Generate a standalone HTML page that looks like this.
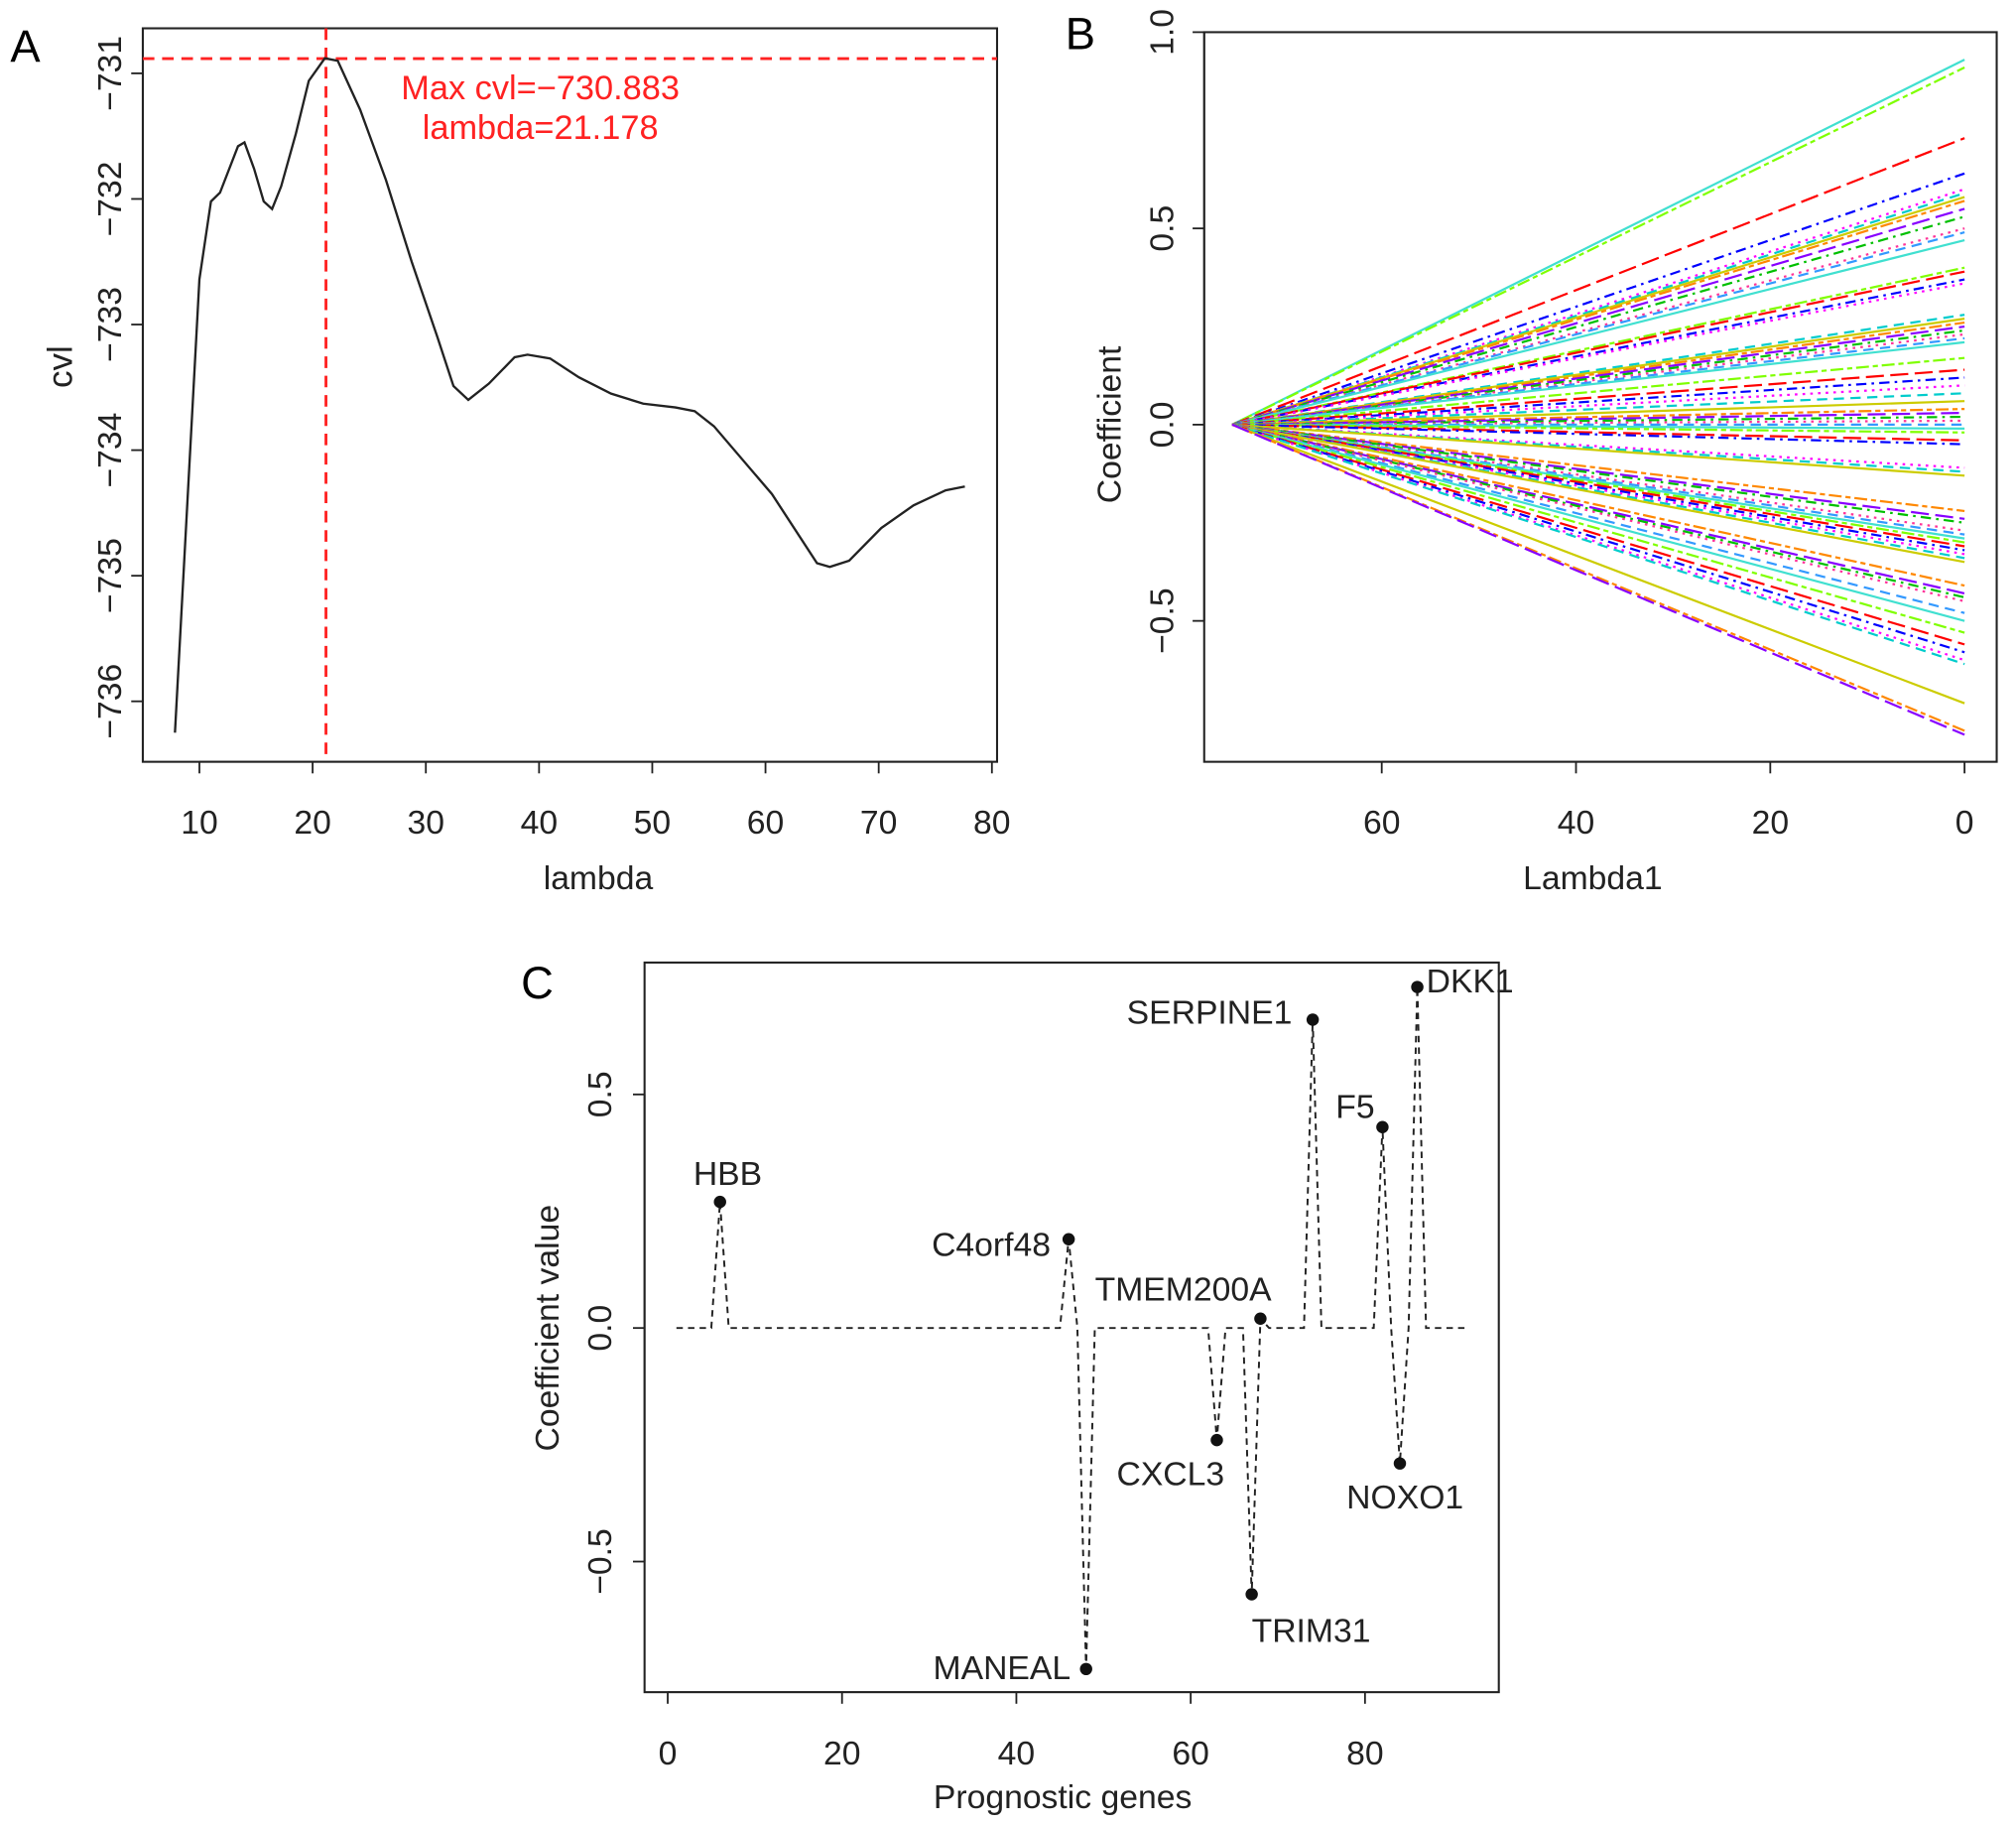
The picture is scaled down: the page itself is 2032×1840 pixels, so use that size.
<!DOCTYPE html>
<html><head><meta charset="utf-8"><style>
html,body{margin:0;padding:0;background:#fff}
svg{display:block;font-family:"Liberation Sans",Arial,sans-serif}
</style></head><body>
<svg id="fig" width="2032" height="1840" viewBox="0 0 1567 1419" preserveAspectRatio="none" xmlns="http://www.w3.org/2000/svg">
<g id="pa"></g>
<g id="pb"></g>
<g id="pc"></g>
</svg>
<script>
// ---- Panel A data ----
const cvlLambda = [7.84,10,11.02,11.82,13.41,13.98,14.83,15.68,16.42,17.22,18.52,19.66,21.08,22.22,24.2,26.48,28.75,31.02,32.44,33.75,35.57,37.84,38.98,40.97,43.52,46.36,49.2,52.05,53.75,55.45,60.57,64.55,65.68,67.39,70.23,73.07,75.91,77.61];
const cvlValues = [-736.25,-732.64,-732.02,-731.95,-731.58,-731.55,-731.76,-732.02,-732.08,-731.90,-731.48,-731.06,-730.88,-730.90,-731.29,-731.85,-732.50,-733.10,-733.49,-733.60,-733.47,-733.26,-733.24,-733.27,-733.42,-733.55,-733.63,-733.66,-733.69,-733.81,-734.35,-734.90,-734.93,-734.88,-734.62,-734.44,-734.32,-734.29];
const aXTicks = [10,20,30,40,50,60,70,80];
const aYTicks = [-731,-732,-733,-734,-735,-736];
const maxCvl = -730.883;
const maxLambda = 21.178;
// ---- Panel B data ----
const bStartLambda = 75.4;
const bEndValues = [0.93,0.91,0.73,0.64,0.60,0.59,0.58,0.57,0.55,0.53,0.50,0.49,0.47,0.40,0.39,0.37,0.36,0.28,0.27,0.26,0.25,0.24,0.23,0.22,0.21,0.17,0.14,0.12,0.10,0.08,0.06,0.04,0.03,0.02,0.01,0,-0.01,-0.02,-0.04,-0.05,-0.11,-0.12,-0.13,-0.22,-0.24,-0.25,-0.27,-0.28,-0.29,-0.30,-0.31,-0.32,-0.33,-0.34,-0.35,-0.41,-0.43,-0.44,-0.45,-0.48,-0.50,-0.53,-0.56,-0.58,-0.60,-0.61,-0.71,-0.78,-0.79];
const bXTicks = [60,40,20,0];
const bYTicks = [1.0,0.5,0.0,-0.5];
const bYTickLabels = ["1.0","0.5","0.0","\u22120.5"];
// ---- Panel C data ----
const cGeneCount = 92;
const cGeneNames = ["HBB","C4orf48","MANEAL","CXCL3","TRIM31","TMEM200A","SERPINE1","F5","NOXO1","DKK1"];
const cGeneIndex = [6,46,48,63,67,68,74,82,84,86];
const cGeneCoef = [0.27,0.19,-0.73,-0.24,-0.57,0.02,0.66,0.43,-0.29,0.73];
const cXTicks = [0,20,40,60,80];
const cYTicks = [0.5,0.0,-0.5];
const cYTickLabels = ["0.5","0.0","\u22120.5"];

const FS=26;
const NS="http://www.w3.org/2000/svg";
function mk(parent,tag,attrs,text){const e=document.createElementNS(NS,tag);for(const k in attrs)e.setAttribute(k,attrs[k]);if(text!==undefined)e.textContent=text;parent.appendChild(e);return e;}

// ===== Panel A =====
(function(){
const g=document.getElementById('pa');
const L=111,R=775,T=22,B=592;
const xs=v=>155+(v-10)*8.8, ys=v=>57-(v+731)*97.6;
let e=mk(g,'text',{x:8,y:48,'font-size':35});e.textContent='A';

e=mk(g,'rect',{x:L,y:T,width:R-L,height:B-T,fill:'none',stroke:'#222','stroke-width':1.6});

const ax=mk(g,'g',{});
mk(ax,'line',{x1:xs(10),x2:xs(80),y1:B,y2:B,stroke:'#222','stroke-width':1.4});
aXTicks.forEach(t=>{mk(ax,'line',{x1:xs(t),x2:xs(t),y1:B,y2:B+9,stroke:'#222','stroke-width':1.4});
 const tx=mk(ax,'text',{x:xs(t),y:648,'font-size':FS,'text-anchor':'middle',fill:'#222'},String(t));
 });
e=mk(g,'text',{x:465,y:691,'font-size':FS,'text-anchor':'middle',fill:'#222'},'lambda');

const ay=mk(g,'g',{});
mk(ay,'line',{x1:L,x2:L,y1:ys(-731),y2:ys(-736),stroke:'#222','stroke-width':1.4});
aYTicks.forEach(t=>{mk(ay,'line',{x1:L-9,x2:L,y1:ys(t),y2:ys(t),stroke:'#222','stroke-width':1.4});
 const tx=mk(ay,'text',{x:0,y:0,'font-size':FS,'text-anchor':'middle',fill:'#222',transform:`translate(94,${ys(t)}) rotate(-90)`},'\u2212'+Math.abs(t));
 });
e=mk(g,'text',{x:0,y:0,'font-size':27,'text-anchor':'middle',fill:'#222',transform:'translate(56,285) rotate(-90)'},'cvl');

e=mk(g,'line',{x1:L,x2:R,y1:ys(maxCvl),y2:ys(maxCvl),stroke:'#f22','stroke-width':2.2,'stroke-dasharray':'9 6'});

e=mk(g,'line',{x1:xs(maxLambda),x2:xs(maxLambda),y1:T,y2:B,stroke:'#f22','stroke-width':2.2,'stroke-dasharray':'9 6'});

e=mk(g,'polyline',{points:cvlLambda.map((v,i)=>xs(v)+','+ys(cvlValues[i])).join(' '),fill:'none',stroke:'#222','stroke-width':1.8});

e=mk(g,'text',{x:420,y:77,'font-size':26.5,'text-anchor':'middle',fill:'#f22'},'Max cvl=\u2212'+Math.abs(maxCvl).toFixed(3));

e=mk(g,'text',{x:420,y:108,'font-size':26.5,'text-anchor':'middle',fill:'#f22'},'lambda='+maxLambda.toFixed(3));

})();

// ===== Panel B =====
(function(){
const g=document.getElementById('pb');
const L=936,R=1552,T=25,B=592;
const xs=v=>1527-v*7.55, ys=v=>330-v*305;
let e=mk(g,'text',{x:828,y:38,'font-size':35});e.textContent='B';

const colors=['#40e0d0','#7fff00','#ff0000','#0000ff','#ff00ff','#00cccc','#cccc00','#ff8800','#8800ff','#00c000','#ff3399','#3399ff'];
const dashes=['none','8 5','2 4','8 4 2 4','14 5','4 3 10 3'];
const lg=mk(g,'g',{});
bEndValues.forEach((v,i)=>{
 const l=mk(lg,'line',{x1:xs(bStartLambda),y1:ys(0),x2:xs(0),y2:ys(v),stroke:colors[i%colors.length],'stroke-width':1.7,'stroke-dasharray':dashes[(i*5)%dashes.length]});
 
 
});
e=mk(g,'rect',{x:L,y:T,width:R-L,height:B-T,fill:'none',stroke:'#222','stroke-width':1.6});

const ax=mk(g,'g',{});
mk(ax,'line',{x1:xs(60),x2:xs(0),y1:B,y2:B,stroke:'#222','stroke-width':1.4});
bXTicks.forEach(t=>{mk(ax,'line',{x1:xs(t),x2:xs(t),y1:B,y2:B+9,stroke:'#222','stroke-width':1.4});
 const tx=mk(ax,'text',{x:xs(t),y:648,'font-size':FS,'text-anchor':'middle',fill:'#222'},String(t));
 });
e=mk(g,'text',{x:1238,y:691,'font-size':FS,'text-anchor':'middle',fill:'#222'},'Lambda1');

const ay=mk(g,'g',{});
mk(ay,'line',{x1:L,x2:L,y1:ys(1),y2:ys(-0.5),stroke:'#222','stroke-width':1.4});
bYTicks.forEach((t,i)=>{mk(ay,'line',{x1:L-9,x2:L,y1:ys(t),y2:ys(t),stroke:'#222','stroke-width':1.4});
 const tx=mk(ay,'text',{x:0,y:0,'font-size':FS,'text-anchor':'middle',fill:'#222',transform:`translate(912,${ys(t)}) rotate(-90)`},bYTickLabels[i]);
 });
e=mk(g,'text',{x:0,y:0,'font-size':FS,'text-anchor':'middle',fill:'#222',transform:'translate(871,330) rotate(-90)'},'Coefficient');

})();

// ===== Panel C =====
(function(){
const g=document.getElementById('pc');
const L=501,R=1165,T=748,B=1315;
const xs=v=>519+v*6.775, ys=v=>1032-v*363;
let e=mk(g,'text',{x:405,y:776,'font-size':35});e.textContent='C';

e=mk(g,'rect',{x:L,y:T,width:R-L,height:B-T,fill:'none',stroke:'#222','stroke-width':1.6});

const pts=[];
for(let i=1;i<=cGeneCount;i++){const k=cGeneIndex.indexOf(i);pts.push(xs(i)+','+ys(k>=0?cGeneCoef[k]:0));}
e=mk(g,'polyline',{points:pts.join(' '),fill:'none',stroke:'#222','stroke-width':1.5,'stroke-dasharray':'5 4'});

const off={HBB:[6,-13,'middle'],C4orf48:[-14,13,'end'],MANEAL:[-12,8,'end'],CXCL3:[-36,35,'middle'],TRIM31:[0,37,'start'],TMEM200A:[-60,-14,'middle'],SERPINE1:[-16,3,'end'],F5:[-6,-7,'end'],NOXO1:[4,35,'middle'],DKK1:[7,4,'start']};
cGeneNames.forEach((n,i)=>{
 const x=xs(cGeneIndex[i]),y=ys(cGeneCoef[i]);
 const c=mk(g,'circle',{cx:x,cy:y,r:4.8,fill:'#111'});
 
 
 const o=off[n];
 const t=mk(g,'text',{x:x+o[0],y:y+o[1],'font-size':FS,'text-anchor':o[2],fill:'#222'},n);
 
 
});
const ax=mk(g,'g',{});
mk(ax,'line',{x1:xs(0),x2:xs(80),y1:B,y2:B,stroke:'#222','stroke-width':1.4});
cXTicks.forEach(t=>{mk(ax,'line',{x1:xs(t),x2:xs(t),y1:B,y2:B+9,stroke:'#222','stroke-width':1.4});
 const tx=mk(ax,'text',{x:xs(t),y:1371,'font-size':FS,'text-anchor':'middle',fill:'#222'},String(t));
 });
e=mk(g,'text',{x:826,y:1405,'font-size':FS,'text-anchor':'middle',fill:'#222'},'Prognostic genes');

const ay=mk(g,'g',{});
mk(ay,'line',{x1:L,x2:L,y1:ys(0.5),y2:ys(-0.5),stroke:'#222','stroke-width':1.4});
cYTicks.forEach((t,i)=>{mk(ay,'line',{x1:L-9,x2:L,y1:ys(t),y2:ys(t),stroke:'#222','stroke-width':1.4});
 const tx=mk(ay,'text',{x:0,y:0,'font-size':FS,'text-anchor':'middle',fill:'#222',transform:`translate(475,${ys(t)}) rotate(-90)`},cYTickLabels[i]);
 });
e=mk(g,'text',{x:0,y:0,'font-size':FS,'text-anchor':'middle',fill:'#222',transform:'translate(434,1032) rotate(-90)'},'Coefficient value');

})();
</script>
</body></html>
